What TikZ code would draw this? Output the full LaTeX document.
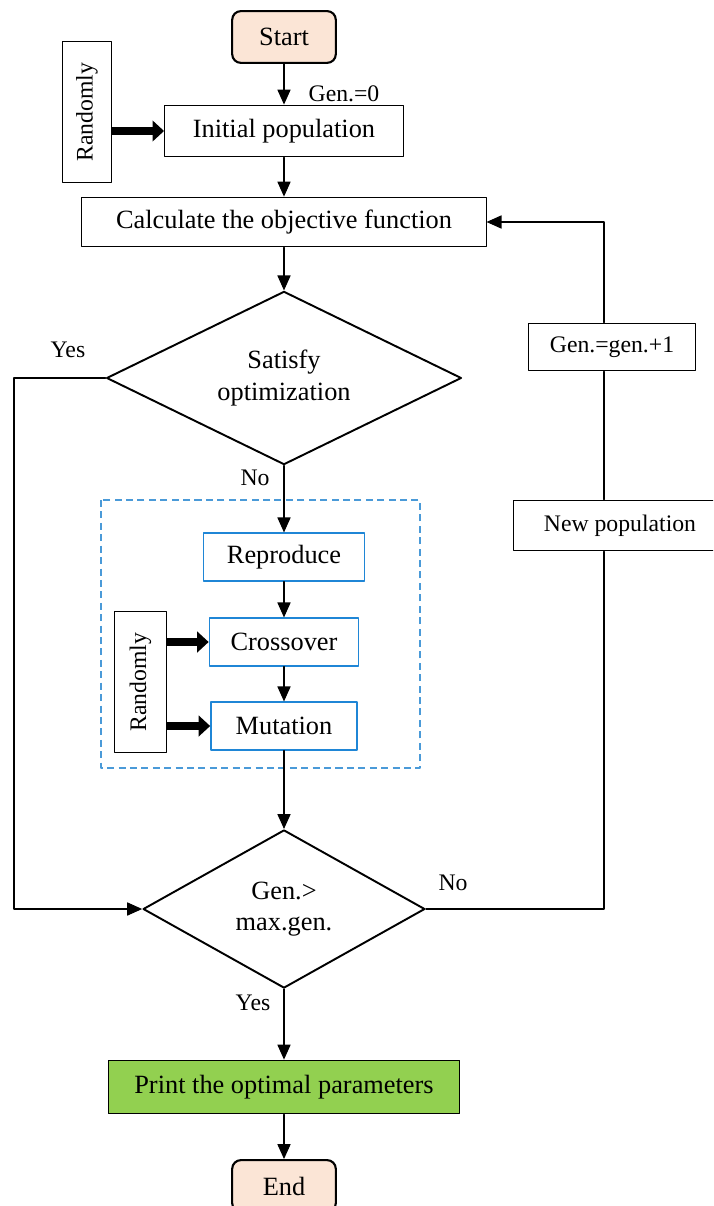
\documentclass[tikz,border=0pt]{standalone}
\usepackage{fontspec}
\setmainfont{Liberation Serif}
\usetikzlibrary{arrows.meta,shapes.geometric}

\definecolor{termfill}{HTML}{FBE5D6}
\definecolor{gablue}{HTML}{1F86D6}
\definecolor{dashblue}{HTML}{4A9AD8}
\definecolor{printgreen}{HTML}{92D050}

\tikzset{
  txt/.style={font=\fontsize{15}{18}\selectfont},
  lbl/.style={font=\fontsize{13.5}{16}\selectfont,inner sep=0pt},
  terminal/.style={txt,draw,line width=1.2pt,rounded corners=5pt,fill=termfill,minimum width=59pt,minimum height=29.5pt,inner sep=0pt},
  process/.style={txt,draw,line width=0.6pt,inner sep=0pt,minimum height=29.5pt},
  smallproc/.style={lbl,draw,line width=0.6pt},
  gastep/.style={txt,draw=gablue,line width=0.8pt,inner sep=0pt,minimum height=27.2pt},
  sidebox/.style={lbl,draw,line width=0.6pt,rotate=90,minimum width=80.5pt},
  decision/.style={txt,draw,diamond,aspect=2,line width=1.1pt,inner sep=0pt,align=center},
  groupbox/.style={draw=dashblue,line width=0.7pt,line cap=butt,dash pattern=on 4pt off 2.5pt},
  flow/.style={line width=0.6pt,-{Triangle[width=7.5pt,length=8.5pt]}},
  fat/.style={line width=5pt,line cap=butt,-{Triangle[width=12pt,length=6.5pt,line width=0pt]}},
}

\begin{document}
\begin{tikzpicture}[line cap=round,line join=round,x=0.02cm,y=-0.02cm]
\useasboundingbox (0,0) rectangle (713,1206);
\clip (0,0) rectangle (713,1206);

\node[terminal] (start) at (284,37) {Start};
\node[process,minimum width=136pt] (init) at (284,131) {Initial population};
\node[sidebox,minimum height=28.3pt] (rand1) at (87,112) {Randomly};
\node[process,minimum width=230pt,minimum height=28.3pt] (calc) at (284,222) {Calculate the objective function};
\node[decision,minimum width=202pt,minimum height=98.6pt] (sat) at (284,378) {Satisfy\\optimization};

\draw[groupbox] (101,500) rectangle (420,768);
\node[gastep,minimum width=91.8pt] (repro) at (284,557) {Reproduce};
\node[gastep,minimum width=85pt] (cross) at (284,642) {Crossover};
\node[gastep,minimum width=83.3pt] (mut) at (284,726) {Mutation};
\node[sidebox,minimum height=30pt] (rand2) at (140.5,682) {Randomly};

\node[decision,minimum width=160.4pt,minimum height=90pt] (maxgen) at (284,909) {Gen.>\\max.gen.};
\node[process,fill=printgreen,minimum width=200pt,minimum height=30.6pt] (print) at (284,1087) {Print the optimal parameters};
\node[terminal] (stop) at (284,1186) {End};

\node[smallproc,minimum width=95.2pt,minimum height=27.2pt] (upd) at (612,347) {Gen.=gen.+1};
\node[smallproc,minimum width=121.3pt,minimum height=28.9pt] (newpop) at (620,525.5) {New population};

\coordinate (yesx) at (14,0);
\coordinate (loopx) at (604,0);

\draw[flow] (start) -- (init);
\draw[fat] (rand1.south |- init.west) -- (init.west);
\draw[flow] (init) -- (calc);
\draw[flow] (calc) -- (sat);
\draw[flow] (sat) -- (repro);
\draw[flow] (repro) -- (cross);
\draw[flow] (cross) -- (mut);
\draw[fat] (rand2.south |- cross.west) -- (cross.west);
\draw[fat] (rand2.south |- mut.west) -- (mut.west);
\draw[flow] (mut) -- (maxgen);
\draw[flow] (maxgen) -- (print);
\draw[flow] (print) -- (stop);
\draw[flow] (sat.west) -- (sat.west -| yesx) |- (maxgen.west);
\draw[line width=0.6pt] (maxgen.east) -| (newpop.south -| loopx);
\draw[line width=0.6pt] (newpop.north -| loopx) -- (upd.south -| loopx);
\draw[flow] (upd.north -| loopx) |- (calc.east);

\node[lbl] (lblgen) at (344,94) {Gen.=0};
\node[lbl] (lblyes1) at (68,350) {Yes};
\node[lbl] (lblno1) at (255,478) {No};
\node[lbl] (lblno2) at (453,883) {No};
\node[lbl] (lblyes2) at (253,1003) {Yes};
\end{tikzpicture}
\end{document}
